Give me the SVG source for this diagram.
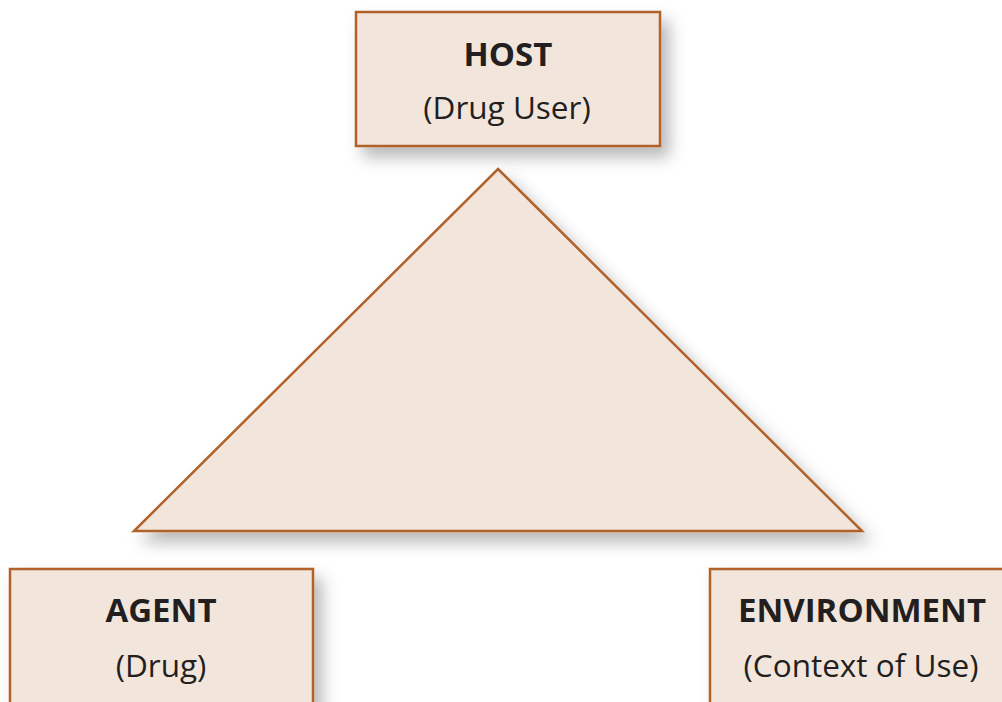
<svg xmlns="http://www.w3.org/2000/svg" width="1002" height="702" viewBox="0 0 1002 702">
<defs>
<filter id="sh" x="-20%" y="-20%" width="150%" height="160%">
<feDropShadow dx="8" dy="10" stdDeviation="8" flood-color="#000" flood-opacity="0.28"/>
</filter>
<style>
.box{fill:#f2e6dc;stroke:#b0622b;stroke-width:2.5;filter:url(#sh)}
.t{font-family:"Open Sans","Noto Sans",sans-serif;fill:#231f20;text-anchor:middle}
.b{font-weight:bold;font-size:33px}
.s{font-size:31.5px}
</style>
</defs>
<rect width="1002" height="702" fill="#fff"/>
<g id="connectors">
<polygon class="box" points="498,169 862,531 134,531"/>
</g>
<g id="host">
<rect class="box" x="356" y="12" width="304" height="134"/>
<text class="t b" x="508" y="66">HOST</text>
<text class="t s" x="507" y="119">(Drug User)</text>
</g>
<g id="agent">
<rect class="box" x="10" y="569" width="303" height="160"/>
<text class="t b" x="161" y="622">AGENT</text>
<text class="t s" x="161" y="677">(Drug)</text>
</g>
<g id="environment">
<rect class="box" x="710" y="569" width="320" height="160"/>
<text class="t b" x="862" y="622">ENVIRONMENT</text>
<text class="t s" x="861" y="677">(Context of Use)</text>
</g>
</svg>
